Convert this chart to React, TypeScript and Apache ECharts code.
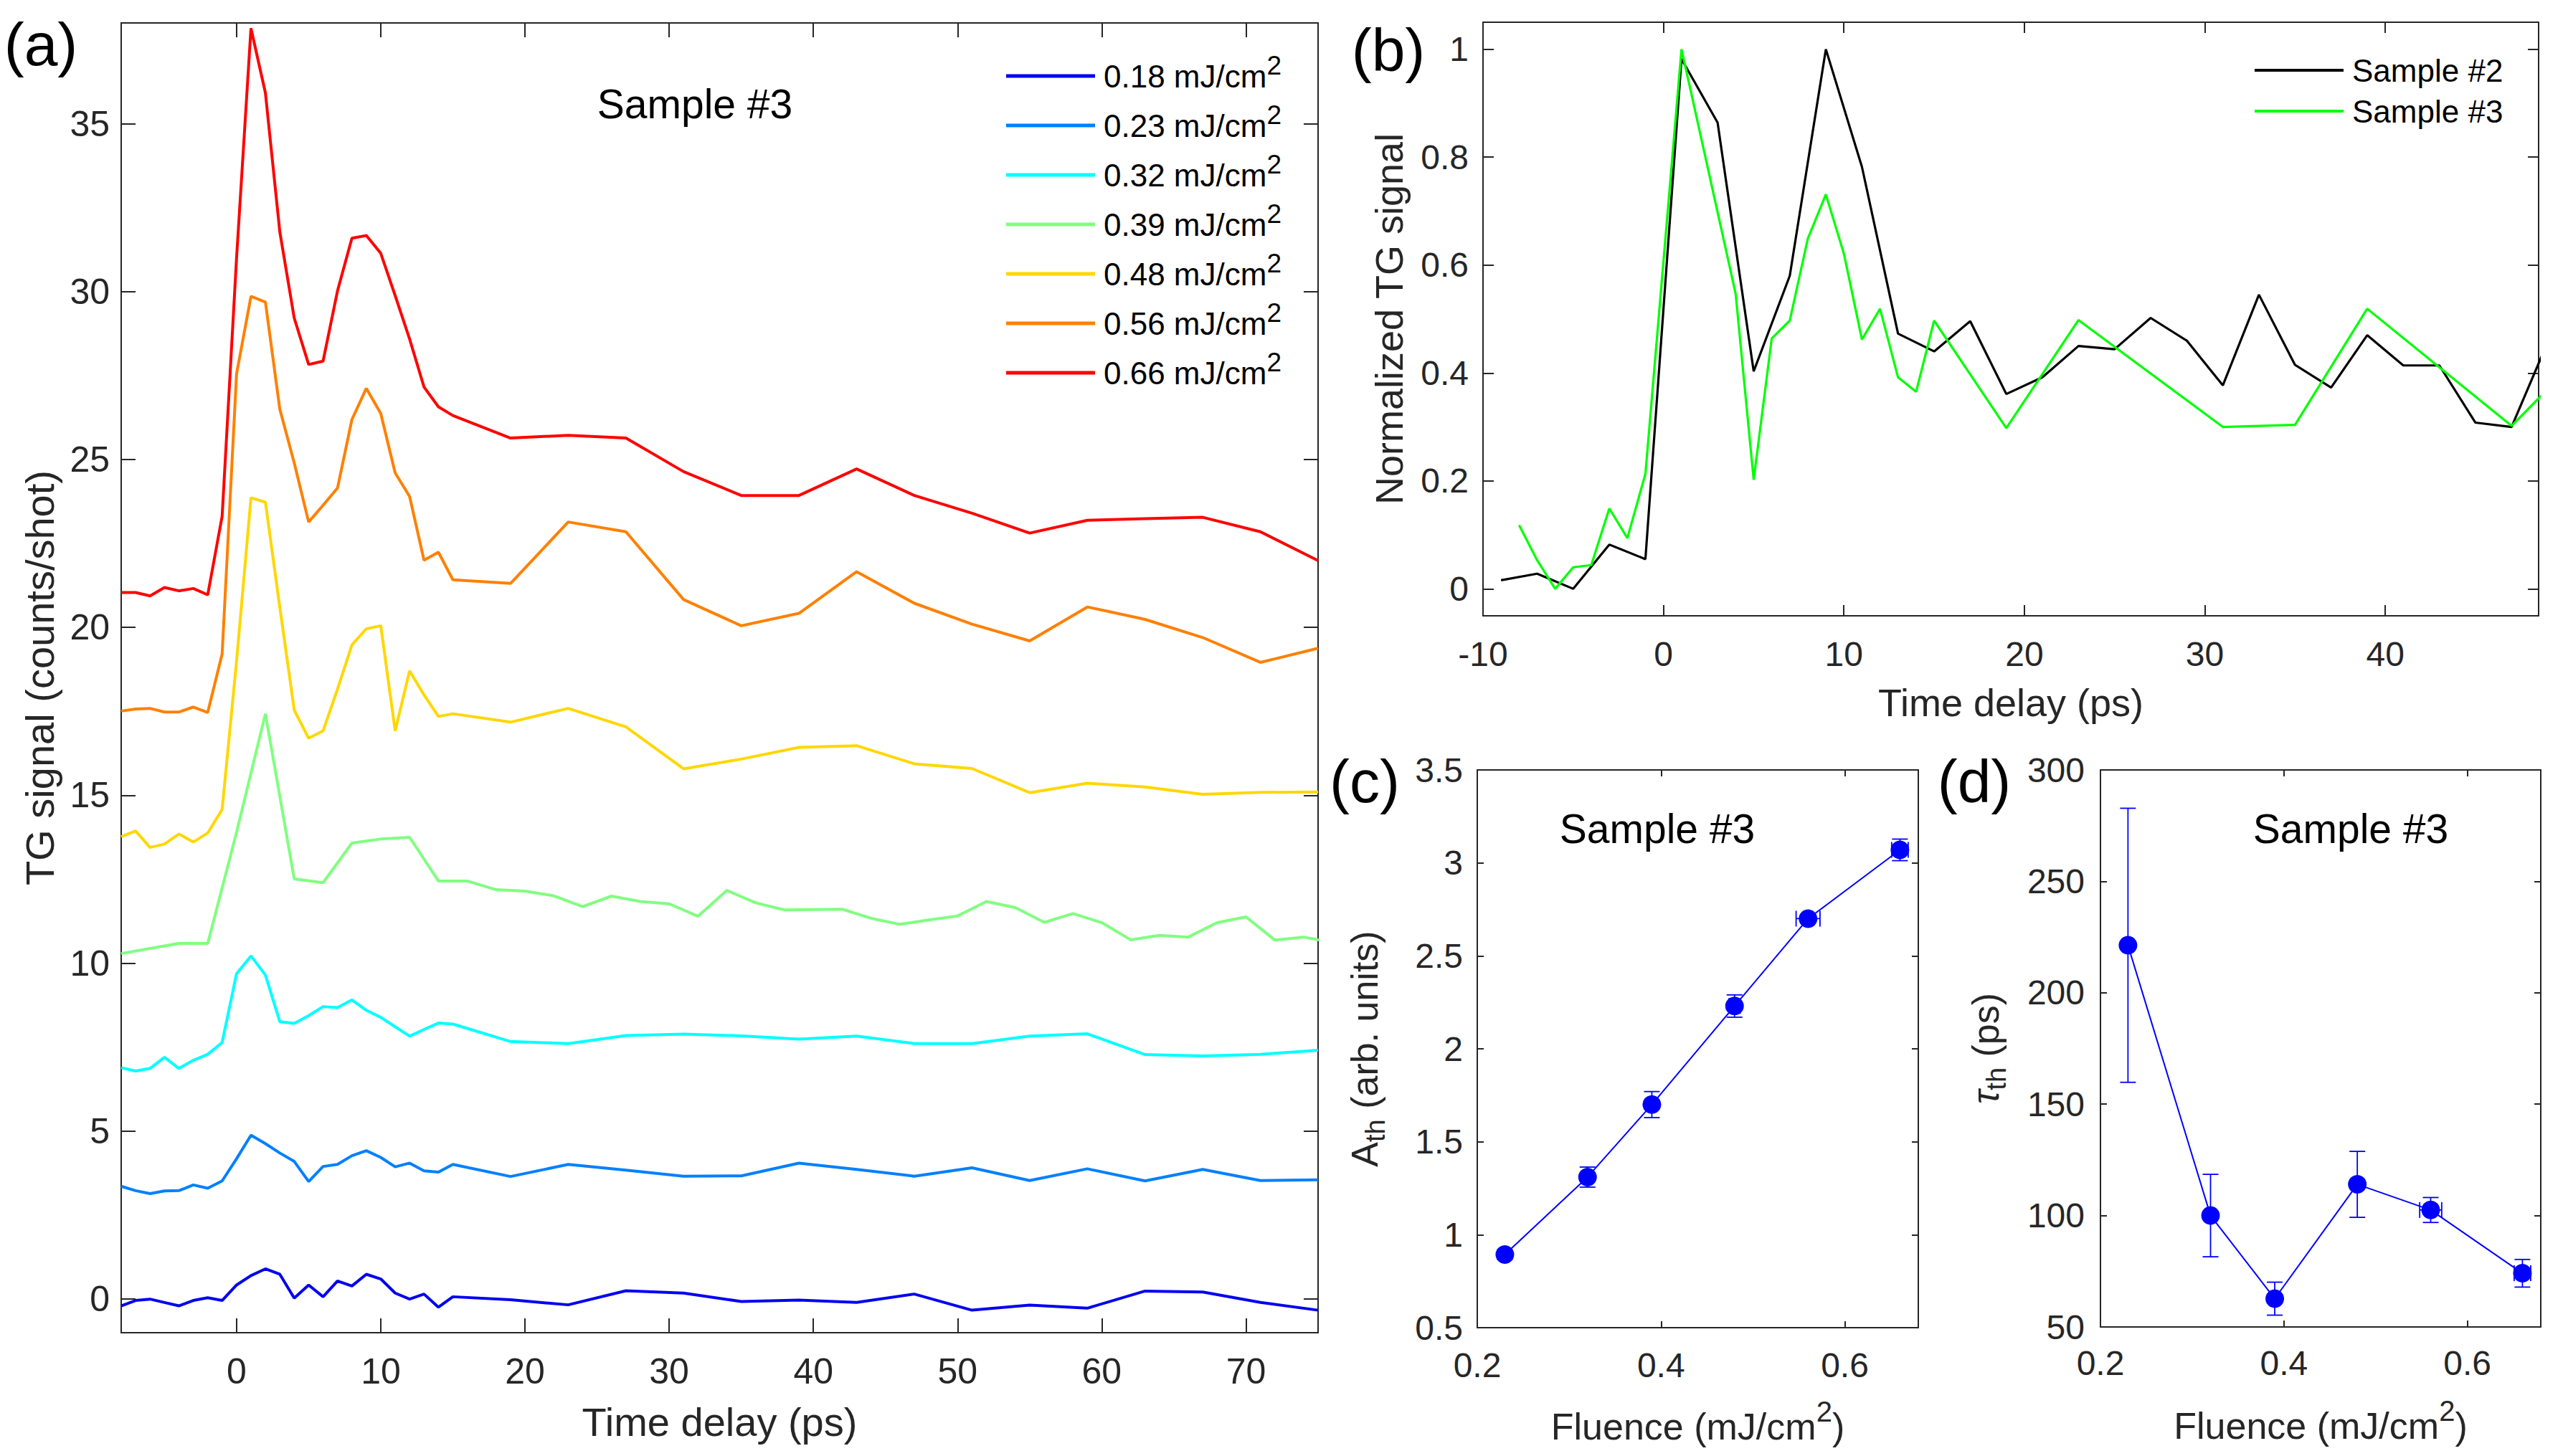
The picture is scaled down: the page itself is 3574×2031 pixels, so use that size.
import React, { useEffect, useRef } from 'react';
import * as echarts from 'echarts';

const FONT = '"Liberation Sans", Arial, Helvetica, sans-serif';
const AXIS_COLOR = '#262626';

// ---------- Panel (a): TG signal vs time delay, Sample #3 ----------
const timeA = [-8, -7, -6, -5, -4, -3, -2, -1, 0, 1, 2, 3, 4, 5, 6, 7, 8, 9, 10, 11, 12, 13, 14, 15, 19, 23, 27, 31, 35, 39, 43, 47, 51, 55, 59, 63, 67, 71, 75];
const timeA2 = [-8, -6, -4, -2, 0, 2, 4, 6, 8, 10, 12, 14, 16, 18, 20, 22, 24, 26, 28, 30, 32, 34, 36, 38, 40, 42, 44, 46, 48, 50, 52, 54, 56, 58, 60, 62, 64, 66, 68, 70, 72, 74, 76];

const sig018 = [-0.2, -0.04, 0.0, -0.1, -0.2, -0.04, 0.04, -0.04, 0.42, 0.70, 0.90, 0.74, 0.03, 0.42, 0.07, 0.54, 0.39, 0.74, 0.60, 0.18, 0.0, 0.15, -0.24, 0.07, -0.02, -0.17, 0.25, 0.18, -0.07, -0.03, -0.10, 0.15, -0.33, -0.18, -0.27, 0.24, 0.21, -0.10, -0.33];
const sig023 = [3.36, 3.23, 3.14, 3.22, 3.23, 3.40, 3.30, 3.52, 4.18, 4.88, 4.63, 4.35, 4.10, 3.50, 3.95, 4.01, 4.27, 4.42, 4.22, 3.94, 4.05, 3.82, 3.78, 4.01, 3.65, 4.01, 3.84, 3.66, 3.67, 4.05, 3.86, 3.66, 3.91, 3.53, 3.88, 3.52, 3.86, 3.53, 3.55];
const sig032 = [6.89, 6.79, 6.87, 7.20, 6.87, 7.11, 7.29, 7.64, 9.69, 10.22, 9.65, 8.26, 8.21, 8.44, 8.71, 8.68, 8.91, 8.60, 8.39, 8.11, 7.83, 8.03, 8.22, 8.19, 7.67, 7.61, 7.85, 7.89, 7.84, 7.74, 7.83, 7.61, 7.61, 7.83, 7.90, 7.28, 7.24, 7.29, 7.41];
const sig039 = [10.29, 10.44, 10.59, 10.59, 13.9, 17.43, 12.51, 12.40, 13.58, 13.70, 13.75, 12.45, 12.45, 12.19, 12.15, 12.01, 11.69, 12.0, 11.84, 11.77, 11.40, 12.17, 11.80, 11.59, 11.60, 11.61, 11.34, 11.16, 11.29, 11.41, 11.84, 11.66, 11.22, 11.48, 11.21, 10.70, 10.83, 10.78, 11.21, 11.38, 10.69, 10.78, 10.62];
const sig048 = [13.77, 13.94, 13.45, 13.55, 13.85, 13.61, 13.88, 14.58, 19.0, 23.86, 23.73, 20.6, 17.54, 16.70, 16.92, 18.16, 19.48, 19.96, 20.05, 16.92, 18.71, 17.99, 17.35, 17.43, 17.18, 17.59, 17.04, 15.79, 16.08, 16.43, 16.48, 15.94, 15.80, 15.08, 15.36, 15.25, 15.03, 15.09, 15.10];
const sig056 = [17.51, 17.57, 17.59, 17.48, 17.48, 17.63, 17.47, 19.21, 27.55, 29.86, 29.69, 26.50, 24.9, 23.14, 23.64, 24.15, 26.19, 27.12, 26.37, 24.60, 23.90, 22.00, 22.24, 21.42, 21.31, 23.14, 22.85, 20.83, 20.05, 20.42, 21.66, 20.72, 20.10, 19.60, 20.61, 20.24, 19.70, 18.96, 19.38];
const sig066 = [21.04, 21.04, 20.94, 21.19, 21.09, 21.16, 20.97, 23.31, 31.0, 37.84, 35.92, 31.78, 29.21, 27.83, 27.93, 30.02, 31.59, 31.67, 31.14, 29.88, 28.59, 27.16, 26.57, 26.31, 25.64, 25.72, 25.64, 24.64, 23.93, 23.93, 24.72, 23.93, 23.4, 22.81, 23.19, 23.24, 23.28, 22.85, 21.99];

const fluenceLabels = ['0.18', '0.23', '0.32', '0.39', '0.48', '0.56', '0.66'];
const timesA = [timeA, timeA, timeA, timeA2, timeA, timeA, timeA];
const signalsA = [sig018, sig023, sig032, sig039, sig048, sig056, sig066];
const colorsA = ['#0000F0', '#0080FF', '#00FFFF', '#80FF80', '#FFD700', '#FF8000', '#FF0000'];

const ticksAx = [0, 10, 20, 30, 40, 50, 60, 70];
const ticksAy = [0, 5, 10, 15, 20, 25, 30, 35];

// ---------- Panel (b): normalized TG signal ----------
const timeS2 = [-9, -7, -5, -3, -1, 1, 3, 5, 7, 9, 11, 13, 15, 17, 19, 21, 23, 25, 27, 29, 31, 33, 35, 37, 39, 41, 43, 45, 47, 49];
const normS2 = [0.016, 0.028, 0.0, 0.082, 0.055, 0.982, 0.864, 0.403, 0.58, 1.0, 0.782, 0.473, 0.44, 0.496, 0.361, 0.392, 0.45, 0.444, 0.502, 0.46, 0.377, 0.545, 0.415, 0.373, 0.47, 0.414, 0.414, 0.308, 0.3, 0.457];
const timeS3 = [-8, -7, -6, -5, -4, -3, -2, -1, 1, 4, 5, 6, 7, 8, 9, 10, 11, 12, 13, 14, 15, 19, 23, 31, 35, 39, 47, 49];
const normS3 = [0.118, 0.053, 0.0, 0.04, 0.044, 0.149, 0.094, 0.213, 1.0, 0.547, 0.202, 0.464, 0.497, 0.649, 0.731, 0.621, 0.462, 0.519, 0.392, 0.365, 0.497, 0.298, 0.498, 0.3, 0.304, 0.519, 0.302, 0.37];
const sampleNames = ['Sample #2', 'Sample #3'];

const ticksBx = [-10, 0, 10, 20, 30, 40];
const ticksBy = [0, 0.2, 0.4, 0.6, 0.8, 1];

// ---------- Panels (c), (d): fit parameters vs fluence ----------
const fluence = [0.23, 0.32, 0.39, 0.48, 0.56, 0.66];
const fluenceErrC = [0.004, 0.004, 0.004, 0.006, 0.013, 0.009];
const ampTh = [0.893, 1.31, 1.70, 2.23, 2.70, 3.07];
const ampThErr = [0.025, 0.054, 0.07, 0.06, 0.02, 0.058];
const fluenceErrD = [0.004, 0.004, 0.004, 0.004, 0.012, 0.009];
const tauTh = [221.3, 100, 62.7, 114, 102.5, 74.1];
const tauThErr = [61.5, 18.5, 7.4, 14.8, 5.6, 6.2];

const ticksFx = [0.2, 0.4, 0.6];
const ticksCy = [0.5, 1, 1.5, 2, 2.5, 3, 3.5];
const ticksDy = [50, 100, 150, 200, 250, 300];

function mkAxis(kind: string, gridIndex: number, min: number, max: number, ticks: number[], tickLen: number,
  labelSize: number, labelMargin: number, mirror: boolean, name?: string, nameSize?: number, nameGap?: number, rich?: any) {
  return {
    type: 'value',
    gridIndex,
    min,
    max,
    position: kind === 'x' ? (mirror ? 'top' : 'bottom') : (mirror ? 'right' : 'left'),
    axisLine: { show: true, onZero: false, lineStyle: { color: AXIS_COLOR, width: 2 } },
    axisTick: { show: true, inside: true, length: tickLen, customValues: ticks, lineStyle: { color: AXIS_COLOR, width: 2 } },
    axisLabel: { show: !mirror, customValues: ticks, fontSize: labelSize, color: AXIS_COLOR, fontFamily: FONT, margin: labelMargin },
    splitLine: { show: false },
    name: mirror ? '' : name,
    nameLocation: 'middle',
    nameGap: nameGap || 0,
    nameRotate: kind === 'y' ? 90 : 0,
    nameMoveOverlap: false,
    nameTextStyle: { fontSize: nameSize || 12, color: AXIS_COLOR, fontFamily: FONT, rich: rich || {} },
  };
}

function zip(xs: number[], ys: number[]) {
  return xs.map((x, i) => [x, ys[i]]);
}

function errorBars(xAxisIndex: number, xs: number[], ys: number[], yErr: number[], xErr: number[]) {
  return {
    type: 'custom',
    xAxisIndex,
    yAxisIndex: xAxisIndex,
    silent: true,
    z: 1,
    clip: false,
    encode: { x: 0, y: 1 },
    data: xs.map((x, i) => [x, ys[i], yErr[i], xErr[i]]),
    renderItem: (params: any, api: any) => {
      const x = api.value(0);
      const y = api.value(1);
      const ey = api.value(2);
      const ex = api.value(3);
      const c = api.coord([x, y]);
      const t = api.coord([x, y + ey]);
      const b = api.coord([x, y - ey]);
      const l = api.coord([x - ex, y]);
      const r = api.coord([x + ex, y]);
      const cap = 11;
      const st = { stroke: '#0000FF', lineWidth: 1.8 };
      return {
        type: 'group',
        children: [
          { type: 'line', shape: { x1: c[0], y1: t[1], x2: c[0], y2: b[1] }, style: st },
          { type: 'line', shape: { x1: c[0] - cap, y1: t[1], x2: c[0] + cap, y2: t[1] }, style: st },
          { type: 'line', shape: { x1: c[0] - cap, y1: b[1], x2: c[0] + cap, y2: b[1] }, style: st },
          { type: 'line', shape: { x1: l[0], y1: c[1], x2: r[0], y2: c[1] }, style: st },
          { type: 'line', shape: { x1: l[0], y1: c[1] - cap, x2: l[0], y2: c[1] + cap }, style: st },
          { type: 'line', shape: { x1: r[0], y1: c[1] - cap, x2: r[0], y2: c[1] + cap }, style: st },
        ],
      };
    },
  };
}

function txt(text: string, x: number, y: number, size: number, color = '#000') {
  return {
    type: 'text',
    x,
    y,
    silent: true,
    style: {
      text,
      fontSize: size,
      fontFamily: FONT,
      fill: color,
      align: 'center',
      verticalAlign: 'middle',
      textAlign: 'center',
      textVerticalAlign: 'middle',
    },
  };
}

export default function App() {
  const ref = useRef<HTMLDivElement>(null);

  useEffect(() => {
    if (!ref.current) return;
    const chart = echarts.init(ref.current, undefined, { renderer: 'svg' });

    const supRich = {
      sup: { fontSize: 40, lineHeight: 40, fontFamily: FONT, color: AXIS_COLOR, padding: [0, 0, 42, 0] },
    };

    const seriesA = fluenceLabels.map((f, i) => ({
      type: 'line',
      name: f,
      xAxisIndex: 0,
      yAxisIndex: 0,
      data: zip(timesA[i], signalsA[i]),
      showSymbol: false,
      symbol: 'none',
      color: colorsA[i],
      itemStyle: { color: colorsA[i] },
      lineStyle: { color: colorsA[i], width: 4 },
      clip: true,
      silent: true,
      z: 2,
    }));

    const seriesB = [
      { name: sampleNames[0], xs: timeS2, ys: normS2, color: '#000000' },
      { name: sampleNames[1], xs: timeS3, ys: normS3, color: '#00FF00' },
    ].map((s) => ({
      type: 'line',
      name: s.name,
      xAxisIndex: 2,
      yAxisIndex: 2,
      data: zip(s.xs, s.ys),
      showSymbol: false,
      symbol: 'none',
      color: s.color,
      itemStyle: { color: s.color },
      lineStyle: { color: s.color, width: 3.2 },
      clip: true,
      silent: true,
      z: 2,
    }));

    const pointSeries = (idx: number, ys: number[]) => ({
      type: 'line',
      xAxisIndex: idx,
      yAxisIndex: idx,
      data: zip(fluence, ys),
      symbol: 'circle',
      symbolSize: 26,
      showSymbol: true,
      color: '#0000FF',
      itemStyle: { color: '#0000FF' },
      lineStyle: { color: '#0000FF', width: 2 },
      silent: true,
      z: 3,
    });

    const option: any = {
      animation: false,
      backgroundColor: '#ffffff',
      textStyle: { fontFamily: FONT },
      grid: [
        { left: 169, top: 32, width: 1669, height: 1827, outerBoundsMode: 'none' },
        { left: 2068, top: 31, width: 1472, height: 828, outerBoundsMode: 'none' },
        { left: 2060, top: 1074, width: 615, height: 778, outerBoundsMode: 'none' },
        { left: 2929, top: 1074, width: 614, height: 777, outerBoundsMode: 'none' },
      ],
      xAxis: [
        mkAxis('x', 0, -8, 75, ticksAx, 20, 50, 29, false, 'Time delay (ps)', 56, 96),
        mkAxis('x', 0, -8, 75, ticksAx, 20, 50, 29, true),
        mkAxis('x', 1, -10, 48.5, ticksBx, 15, 48, 29, false, 'Time delay (ps)', 54, 94),
        mkAxis('x', 1, -10, 48.5, ticksBx, 15, 48, 29, true),
        mkAxis('x', 2, 0.2, 0.68, ticksFx, 9, 48, 28, false, 'Fluence (mJ/cm{sup|2})', 52, 112, supRich),
        mkAxis('x', 2, 0.2, 0.68, ticksFx, 9, 48, 28, true),
        mkAxis('x', 3, 0.2, 0.68, ticksFx, 9, 48, 26, false, 'Fluence (mJ/cm{sup|2})', 52, 112, supRich),
        mkAxis('x', 3, 0.2, 0.68, ticksFx, 9, 48, 26, true),
      ],
      yAxis: [
        mkAxis('y', 0, -1, 38, ticksAy, 20, 50, 16, false, 'TG signal (counts/shot)', 56, 86),
        mkAxis('y', 0, -1, 38, ticksAy, 20, 50, 16, true),
        mkAxis('y', 1, -0.05, 1.05, ticksBy, 15, 48, 20, false, 'Normalized TG signal', 54, 104),
        mkAxis('y', 1, -0.05, 1.05, ticksBy, 15, 48, 20, true),
        mkAxis('y', 2, 0.5, 3.5, ticksCy, 9, 48, 20, false, 'A{sub|th} (arb. units)', 52, 131, {
          sub: { fontSize: 38, lineHeight: 38, fontFamily: FONT, color: AXIS_COLOR, padding: [30, 0, 0, 0] },
        }),
        mkAxis('y', 2, 0.5, 3.5, ticksCy, 9, 48, 20, true),
        mkAxis('y', 3, 50, 300, ticksDy, 9, 48, 22, false, '{tau|τ}{sub|th} (ps)', 52, 134, {
          tau: { fontSize: 52, fontStyle: 'italic', fontFamily: FONT, color: AXIS_COLOR },
          sub: { fontSize: 38, lineHeight: 38, fontFamily: FONT, color: AXIS_COLOR, padding: [30, 0, 0, 0] },
        }),
        mkAxis('y', 3, 50, 300, ticksDy, 9, 48, 22, true),
      ],
      legend: [
        {
          data: fluenceLabels,
          orient: 'vertical',
          left: 1403,
          top: 73,
          padding: 0,
          itemGap: 3,
          itemWidth: 124,
          itemHeight: 5,
          icon: 'rect',
          selectedMode: false,
          formatter: (n: string) => `{n|${n} mJ/cm}{s|2}`,
          textStyle: {
            color: '#000',
            fontFamily: FONT,
            fontSize: 44,
            rich: {
              n: { fontSize: 44, lineHeight: 50, fontFamily: FONT, color: '#000', padding: [0, 0, 0, 7] },
              s: { fontSize: 37, lineHeight: 37, fontFamily: FONT, color: '#000', padding: [0, 0, 29, 0] },
            },
          },
        },
        {
          data: sampleNames,
          orient: 'vertical',
          left: 3144,
          top: 74,
          padding: 0,
          itemGap: 9,
          itemWidth: 124,
          itemHeight: 4,
          icon: 'rect',
          selectedMode: false,
          textStyle: { color: '#000', fontFamily: FONT, fontSize: 44, lineHeight: 48, padding: [0, 0, 0, 7] },
        },
      ],
      graphic: [
        txt('(a)', 57, 62, 84),
        txt('(b)', 1936, 70, 84),
        txt('(c)', 1903, 1090, 84),
        txt('(d)', 2753, 1090, 84),
        txt('Sample #3', 969, 145, 57),
        txt('Sample #3', 2311, 1156, 57),
        txt('Sample #3', 3278, 1156, 57),
      ],
      series: [
        ...seriesA,
        ...seriesB,
        errorBars(4, fluence, ampTh, ampThErr, fluenceErrC),
        pointSeries(4, ampTh),
        errorBars(6, fluence, tauTh, tauThErr, fluenceErrD),
        pointSeries(6, tauTh),
      ],
    };

    chart.setOption(option);
    return () => {
      chart.dispose();
    };
  }, []);

  return (
    <div
      ref={ref}
      style={{ position: 'absolute', left: 0, top: 0, width: 3574, height: 2031, background: '#fff' }}
    />
  );
}
